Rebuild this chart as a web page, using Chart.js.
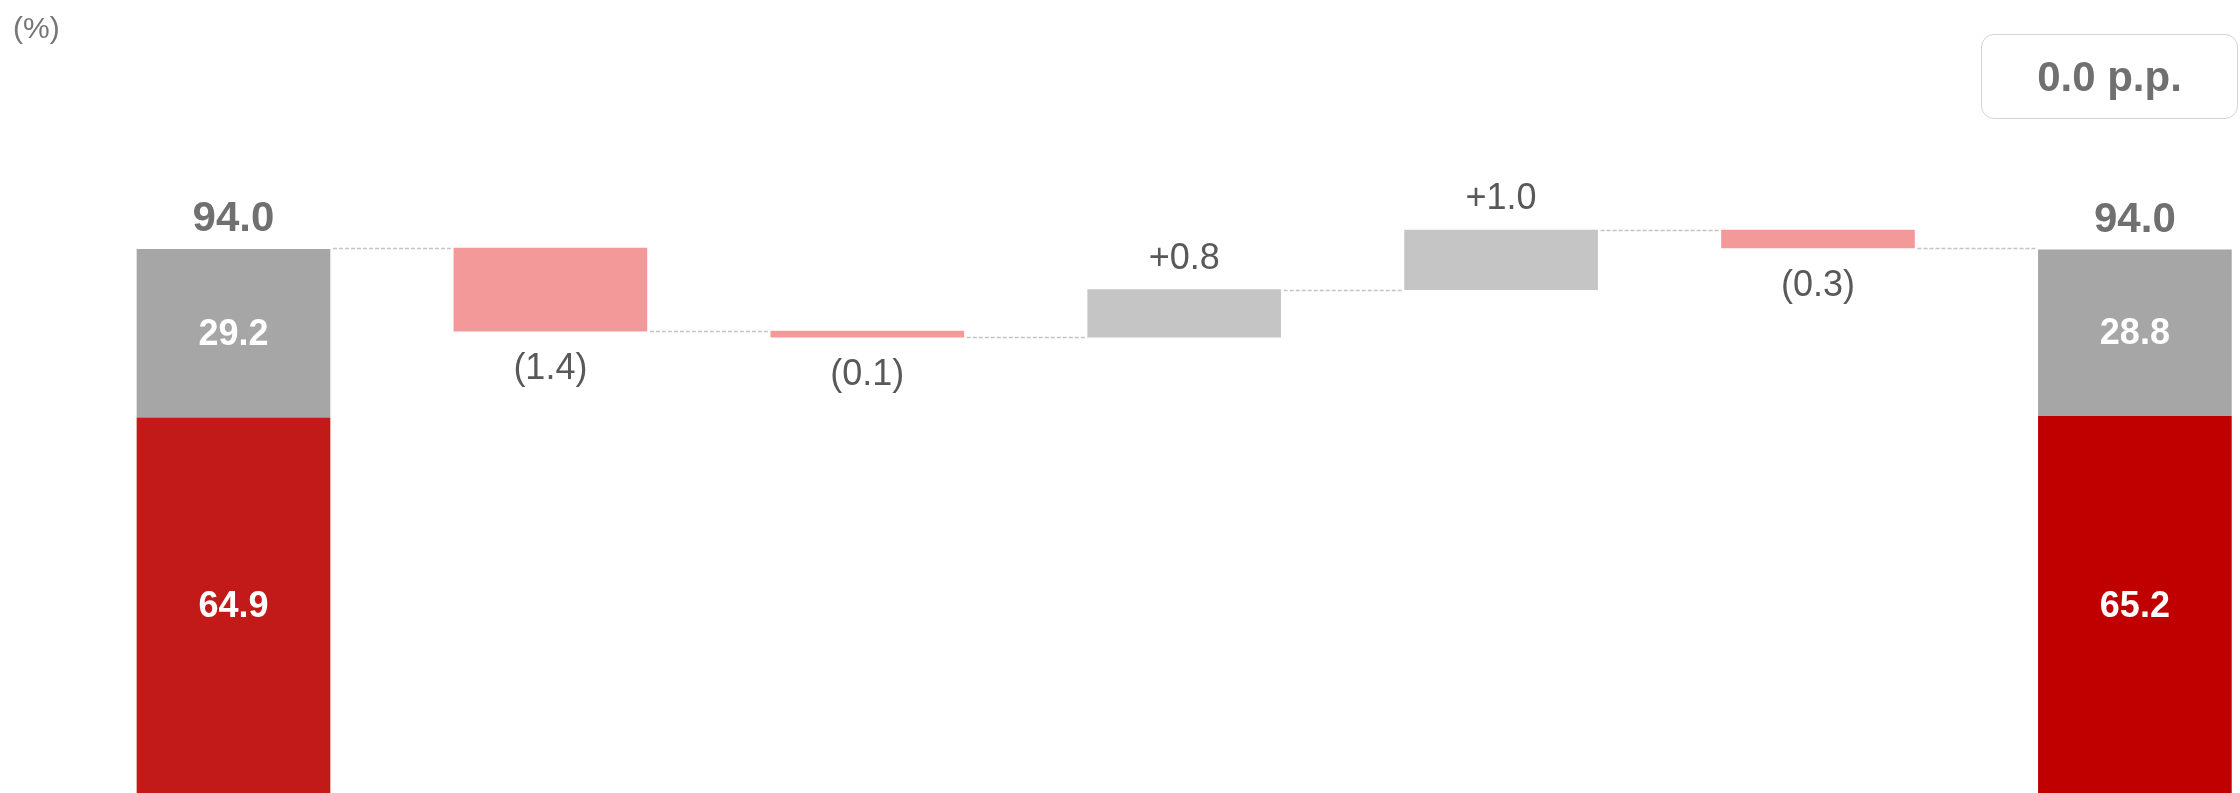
<!DOCTYPE html>
<html>
<head>
<meta charset="utf-8">
<title>Bridge</title>
<script src="https://cdn.jsdelivr.net/npm/chart.js@4.4.1/dist/chart.umd.min.js"></script>
<style>
    html, body { margin: 0; padding: 0; background: #fff; }
    .wrap {
        position: relative;
        width: 2240px;
        height: 793px;
        overflow: hidden;
        font-family: 'Liberation Sans', Arial, sans-serif;
    }
    .unit {
        position: absolute;
        left: 13px;
        top: 11px;
        font-size: 30px;
        color: #767676;
    }
    .delta-box {
        position: absolute;
        left: 1981px;
        top: 34px;
        width: 257px;
        height: 85px;
        box-sizing: border-box;
        border: 1.5px solid #d4d4d4;
        border-radius: 13px;
        display: flex;
        align-items: center;
        justify-content: center;
        font-size: 42px;
        font-weight: bold;
        color: #707070;
    }
    canvas { position: absolute; left: 0; top: 0; }
</style>
</head>
<body>
<div class="wrap">
    <canvas id="bridgeChart" width="2240" height="793"></canvas>
    <div class="unit">(%)</div>
    <div class="delta-box" id="deltaBox"></div>
</div>
<script>
// columns, left to right: opening total, five movements, closing total
const categories = ['Opening', 'Step 1', 'Step 2', 'Step 3', 'Step 4', 'Step 5', 'Closing'];
const endTotals = [94.0, 94.0];
const endLower = [64.9, 65.2];
const endUpper = [29.2, 28.8];
const changes = [-1.4, -0.1, 0.8, 1.0, -0.3];

const lowerColors = ['#C11A18', '#C00000'];
const upperColor = '#A6A6A6';
const downColor = '#F3999A';
const upColor = '#C5C5C5';
const barWidth = 193;
const fontFamily = "'Liberation Sans', Arial, sans-serif";

document.addEventListener('DOMContentLoaded', function () {

    const lastIdx = categories.length - 1;

    // running level before / after every movement
    const steps = [];
    let level = endTotals[0];
    changes.forEach((c, i) => {
        const next = Math.round((level + c) * 10) / 10;
        steps.push({ x: i + 1, from: level, to: next, delta: c });
        level = next;
    });

    const deltaPP = endTotals[1] - endTotals[0];
    document.getElementById('deltaBox').textContent = (Math.abs(deltaPP) < 0.05 ? '0.0' : deltaPP.toFixed(1)) + ' p.p.';

    const fmtChange = (v) => v < 0 ? '(' + Math.abs(v).toFixed(1) + ')' : '+' + v.toFixed(1);

    const bridgeLabels = {
        id: 'bridgeLabels',
        beforeDatasetsDraw(chart) {
            const { ctx } = chart;
            const x = chart.scales.x;
            const y2 = chart.scales.y2;
            ctx.save();
            ctx.strokeStyle = '#C4C4C4';
            ctx.lineWidth = 1.5;
            ctx.setLineDash([4, 2]);
            // dashed connectors between neighbouring columns
            const levels = [endTotals[0]].concat(steps.map(s => s.to));
            for (let i = 0; i < lastIdx; i++) {
                const py = Math.round(y2.getPixelForValue(levels[i])) + 0.5;
                const x0 = x.getPixelForValue(i) + barWidth / 2 + 3;
                const x1 = x.getPixelForValue(i + 1) - barWidth / 2 - 3;
                ctx.beginPath();
                ctx.moveTo(x0, py);
                ctx.lineTo(x1, py);
                ctx.stroke();
            }
            ctx.restore();
        },
        afterDatasetsDraw(chart) {
            const { ctx } = chart;
            const x = chart.scales.x;
            const y = chart.scales.y;
            const y2 = chart.scales.y2;
            ctx.save();
            ctx.textAlign = 'center';

            [0, lastIdx].forEach((idx, k) => {
                const cx = x.getPixelForValue(idx);
                const top = y.getPixelForValue(endLower[k] + endUpper[k]);
                const mid = y.getPixelForValue(endLower[k]);

                ctx.fillStyle = '#707070';
                ctx.font = 'bold 42px ' + fontFamily;
                ctx.textBaseline = 'alphabetic';
                ctx.fillText(endTotals[k].toFixed(1), cx, top - 18);

                ctx.fillStyle = '#FFFFFF';
                ctx.font = 'bold 36px ' + fontFamily;
                ctx.textBaseline = 'middle';
                ctx.fillText(endUpper[k].toFixed(1), cx, (top + mid) / 2 + 1);
                ctx.fillText(endLower[k].toFixed(1), cx, (mid + y.bottom) / 2 + 2);
            });

            ctx.fillStyle = '#595959';
            ctx.font = '36px ' + fontFamily;
            ctx.textBaseline = 'middle';
            steps.forEach(s => {
                const cx = x.getPixelForValue(s.x);
                if (s.delta < 0) {
                    const bottom = y2.getPixelForValue(s.to);
                    ctx.fillText(fmtChange(s.delta), cx, bottom + 38);
                } else {
                    const top = y2.getPixelForValue(s.to);
                    ctx.fillText(fmtChange(s.delta), cx, top - 31);
                }
            });
            ctx.restore();
        }
    };

    const ctxBridge = document.getElementById('bridgeChart').getContext('2d');

    const bridgeChart = new Chart(ctxBridge, {
        type: 'bar',
        data: {
            datasets: [{
                label: 'Lower',
                data: [{ x: 0, y: endLower[0] }, { x: lastIdx, y: endLower[1] }],
                backgroundColor: lowerColors,
                yAxisID: 'y',
                stack: 'ends',
                grouped: false,
                barThickness: barWidth
            }, {
                label: 'Upper',
                data: [{ x: 0, y: endUpper[0] }, { x: lastIdx, y: endUpper[1] }],
                backgroundColor: upperColor,
                yAxisID: 'y',
                stack: 'ends',
                grouped: false,
                barThickness: barWidth
            }, {
                label: 'Change',
                data: steps.map(s => ({ x: s.x, y: [Math.min(s.from, s.to), Math.max(s.from, s.to)] })),
                backgroundColor: steps.map(s => s.delta < 0 ? downColor : upColor),
                yAxisID: 'y2',
                grouped: false,
                barThickness: barWidth
            }]
        },
        options: {
            responsive: false,
            animation: false,
            devicePixelRatio: 1,
            layout: { padding: 0 },
            plugins: {
                legend: { display: false },
                tooltip: { enabled: false }
            },
            scales: {
                x: {
                    type: 'linear',
                    display: false,
                    offset: false,
                    min: -0.7368,
                    max: 6.3317
                },
                y: {
                    display: false,
                    stacked: true,
                    min: 0,
                    max: 137.24
                },
                y2: {
                    display: false,
                    min: 84.825,
                    max: 98.175
                }
            }
        },
        plugins: [bridgeLabels]
    });
});
</script>
</body>
</html>
